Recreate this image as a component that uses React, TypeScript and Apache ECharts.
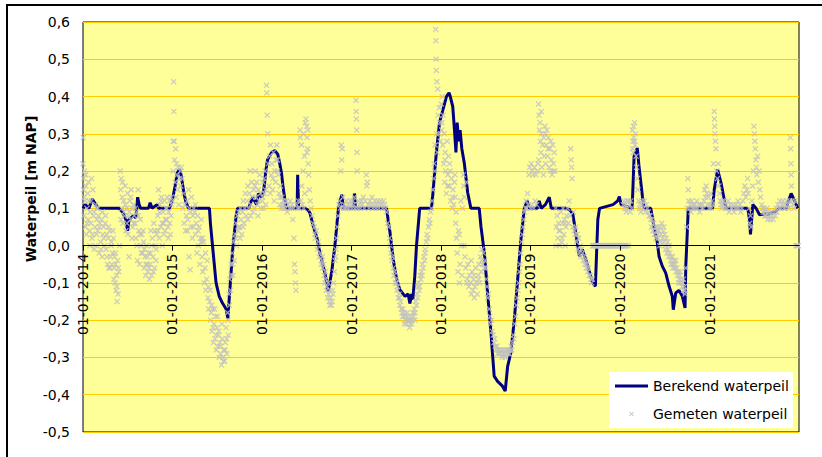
import React, { useEffect, useRef } from "react";
import * as echarts from "echarts";

// Berekend waterpeil [m NAP]
const BEREKEND: [string, number][] = [
  ["2014-01-01",0.10],["2014-01-10",0.11],["2014-01-25",0.10],["2014-02-08",0.125],["2014-02-22",0.11],["2014-03-06",0.10],
  ["2014-05-28",0.10],["2014-06-12",0.09],["2014-06-25",0.07],["2014-07-02",0.04],["2014-07-08",0.07],["2014-07-25",0.08],
  ["2014-08-05",0.075],["2014-08-12",0.13],["2014-08-18",0.11],["2014-08-24",0.10],["2014-09-25",0.10],["2014-10-02",0.115],
  ["2014-10-10",0.10],["2014-10-30",0.11],["2014-11-06",0.10],["2014-12-20",0.10],
  ["2015-01-03",0.13],["2015-01-12",0.16],["2015-01-21",0.195],["2015-01-30",0.205],["2015-02-05",0.19],["2015-02-10",0.17],
  ["2015-02-17",0.14],["2015-02-24",0.12],["2015-03-04",0.105],["2015-03-10",0.10],["2015-06-01",0.10],["2015-06-05",0.06],
  ["2015-06-15",-0.01],["2015-06-28",-0.10],["2015-07-11",-0.136],["2015-07-24",-0.154],["2015-08-08",-0.17],["2015-08-15",-0.195],
  ["2015-08-21",-0.14],["2015-09-04",-0.01],["2015-09-18",0.08],["2015-09-24",0.10],["2015-11-08",0.10],["2015-11-24",0.13],
  ["2015-12-02",0.12],["2015-12-10",0.11],["2015-12-18",0.14],
  ["2016-01-01",0.13],["2016-01-09",0.15],["2016-01-17",0.20],["2016-01-24",0.23],["2016-02-01",0.24],["2016-02-10",0.25],
  ["2016-02-23",0.255],["2016-03-06",0.245],["2016-03-14",0.22],["2016-03-21",0.195],["2016-03-27",0.16],["2016-04-04",0.123],
  ["2016-04-11",0.10],["2016-05-24",0.10],["2016-05-26",0.19],["2016-05-30",0.10],["2016-06-25",0.10],["2016-07-08",0.095],
  ["2016-07-15",0.088],["2016-07-29",0.052],["2016-08-13",0.02],["2016-08-25",-0.02],["2016-09-14",-0.073],["2016-09-28",-0.122],
  ["2016-10-12",-0.07],["2016-10-25",0.0],["2016-11-08",0.097],["2016-11-22",0.137],["2016-11-29",0.10],
  ["2017-01-10",0.10],["2017-01-13",0.14],["2017-01-17",0.10],["2017-05-24",0.10],["2017-05-30",0.07],["2017-06-07",0.035],
  ["2017-06-20",-0.037],["2017-07-04",-0.09],["2017-07-17",-0.118],["2017-08-07",-0.136],["2017-08-20",-0.13],["2017-08-27",-0.155],
  ["2017-09-03",-0.13],["2017-09-08",-0.145],["2017-09-16",-0.082],["2017-09-23",0.0],["2017-10-06",0.10],["2017-11-23",0.10],
  ["2017-11-29",0.14],["2017-12-13",0.25],["2017-12-26",0.33],
  ["2018-01-07",0.36],["2018-01-15",0.38],["2018-01-23",0.40],["2018-02-03",0.41],["2018-02-08",0.40],["2018-02-18",0.373],
  ["2018-02-25",0.31],["2018-03-03",0.25],["2018-03-08",0.33],["2018-03-14",0.28],["2018-03-20",0.31],["2018-03-27",0.26],
  ["2018-04-06",0.222],["2018-04-20",0.142],["2018-05-03",0.10],["2018-06-06",0.10],["2018-06-13",0.052],["2018-06-27",-0.02],
  ["2018-07-10",-0.127],["2018-07-24",-0.234],["2018-07-31",-0.297],["2018-08-06",-0.35],["2018-08-20",-0.364],["2018-09-09",-0.377],
  ["2018-09-20",-0.39],["2018-09-30",-0.324],["2018-10-13",-0.287],["2018-10-27",-0.20],["2018-11-10",-0.09],["2018-11-23",0.016],
  ["2018-12-07",0.10],["2018-12-19",0.12],["2018-12-27",0.10],
  ["2019-01-29",0.10],["2019-02-06",0.12],["2019-02-14",0.10],["2019-03-03",0.11],["2019-03-11",0.12],["2019-03-19",0.13],
  ["2019-03-27",0.10],["2019-05-27",0.10],["2019-06-09",0.097],["2019-06-23",0.085],["2019-07-07",0.025],["2019-07-20",-0.028],
  ["2019-08-01",-0.01],["2019-08-23",-0.055],["2019-09-12",-0.10],["2019-09-23",-0.109],["2019-09-26",-0.055],["2019-10-03",0.07],
  ["2019-10-10",0.10],["2019-12-04",0.11],["2019-12-23",0.12],["2019-12-30",0.132],
  ["2020-01-06",0.11],["2020-02-20",0.10],["2020-02-24",0.168],["2020-02-28",0.24],["2020-03-12",0.262],["2020-03-19",0.213],
  ["2020-04-02",0.132],["2020-04-09",0.10],["2020-05-06",0.10],["2020-05-19",0.052],["2020-06-02",0.007],["2020-06-09",-0.029],
  ["2020-06-22",-0.055],["2020-07-06",-0.073],["2020-07-20",-0.109],["2020-08-02",-0.136],["2020-08-06",-0.172],["2020-08-16",-0.127],
  ["2020-08-29",-0.12],["2020-09-12",-0.136],["2020-09-23",-0.167],["2020-09-26",-0.055],["2020-10-02",0.034],["2020-10-06",0.10],
  ["2021-01-13",0.10],["2021-01-20",0.15],["2021-02-03",0.204],["2021-02-17",0.168],["2021-03-02",0.123],["2021-03-09",0.10],
  ["2021-06-06",0.10],["2021-06-13",0.07],["2021-06-17",0.03],["2021-06-24",0.088],["2021-06-26",0.11],["2021-07-10",0.10],
  ["2021-07-24",0.083],["2021-08-13",0.085],["2021-09-03",0.085],["2021-09-23",0.09],["2021-10-13",0.10],["2021-11-10",0.10],
  ["2021-11-19",0.12],["2021-11-30",0.14],["2021-12-14",0.12],["2021-12-27",0.10],
];

// Gemeten waterpeil [m NAP], per year: [MM-DD, value]
const GEMETEN_2014: [string, number][] = [
  ["01-01",0.22],["01-02",0.29],["01-03",0.15],["01-04",0.18],["01-05",0.08],["01-07",0.2],["01-09",0.12],["01-11",0.05],["01-13",0.16],["01-15",0.03],["01-17",0.1],["01-20",0.14],["01-22",0.07],["01-25",0.12],["01-28",0.04],["01-30",0.09],
  ["01-06",0.13],["01-12",0.19],["01-18",0.06],["01-24",0.17],["01-29",0.0],
  ["02-02",0.06],["02-05",0.18],["02-07",0.02],["02-10",0.15],["02-13",0.08],["02-16",-0.01],["02-19",0.05],["02-22",0.11],["02-25",0.03],["02-27",0.07],
  ["02-03",0.12],["02-09",0.03],["02-15",0.09],["02-20",0.0],["02-26",0.1],
  ["03-02",0.04],["03-05",0.08],["03-08",-0.02],["03-11",0.06],["03-14",0.01],["03-17",0.07],["03-20",-0.03],["03-23",0.03],["03-26",0.05],["03-29",0.0],
  ["03-03",0.1],["03-09",0.05],["03-15",-0.01],["03-21",0.09],["03-27",0.02],
  ["04-02",0.06],["04-05",-0.01],["04-08",0.03],["04-11",-0.05],["04-14",0.02],["04-17",-0.06],["04-20",0.04],["04-23",-0.03],["04-26",0.0],["04-29",-0.05],
  ["04-03",0.08],["04-09",-0.03],["04-15",0.05],["04-21",-0.06],["04-27",0.01],
  ["05-02",-0.02],["05-05",0.02],["05-08",-0.06],["05-10",-0.03],["05-12",-0.1],["05-14",-0.05],["05-16",-0.12],["05-18",-0.08],["05-20",-0.15],["05-22",-0.04],["05-24",-0.13],["05-27",-0.07],["05-30",0.0],
  ["05-03",0.04],["05-07",-0.09],["05-13",-0.02],["05-19",-0.11],["05-25",-0.06],
  ["06-02",0.2],["06-04",0.15],["06-06",0.18],["06-08",0.1],["06-10",0.13],["06-13",0.06],["06-16",0.12],["06-19",0.08],["06-22",0.16],["06-25",0.04],["06-28",0.1],
  ["06-05",0.07],["06-11",0.17],["06-17",0.09],["06-23",0.11],["06-29",0.06],
  ["07-02",0.14],["07-05",0.08],["07-08",-0.03],["07-11",0.12],["07-14",0.07],["07-17",0.15],["07-20",0.1],["07-23",0.05],["07-26",0.11],["07-29",0.08],
  ["07-03",0.03],["07-09",0.09],["07-15",0.13],["07-21",0.02],["07-27",0.06],
  ["08-02",0.06],["08-05",0.02],["08-08",0.09],["08-11",-0.04],["08-14",0.15],["08-17",0.04],["08-20",-0.05],["08-23",0.07],["08-26",0.0],["08-29",0.03],
  ["08-03",0.1],["08-09",0.0],["08-15",0.08],["08-21",0.03],["08-27",-0.02],
  ["09-02",-0.02],["09-05",0.01],["09-08",-0.06],["09-11",-0.03],["09-14",-0.08],["09-17",0.0],["09-20",-0.05],["09-23",-0.07],["09-26",-0.02],["09-29",-0.09],
  ["09-03",0.04],["09-09",-0.01],["09-15",-0.05],["09-21",-0.03],["09-27",-0.06],
  ["10-02",-0.05],["10-05",0.04],["10-08",-0.08],["10-11",0.02],["10-14",-0.03],["10-17",0.06],["10-20",-0.06],["10-23",0.0],["10-26",-0.04],["10-29",0.03],
  ["10-03",-0.02],["10-09",0.0],["10-15",-0.07],["10-21",0.04],["10-27",-0.01],
  ["11-02",0.08],["11-05",0.15],["11-08",0.02],["11-11",0.11],["11-14",0.05],["11-17",0.13],["11-20",0.0],["11-23",0.09],["11-26",0.06],["11-29",0.12],
  ["11-03",0.04],["11-09",0.09],["11-15",0.12],["11-21",0.06],["11-27",0.03],
  ["12-02",0.04],["12-05",0.1],["12-08",0.07],["12-11",0.13],["12-14",0.05],["12-17",0.09],["12-20",0.12],["12-23",0.03],["12-26",0.08],["12-29",0.11],
  ["12-03",0.07],["12-09",0.1],["12-15",0.02],["12-21",0.06],["12-27",0.13],
];
const GEMETEN_2015: [string, number][] = [
  ["01-02",0.12],["01-04",0.2],["01-05",0.28],["01-06",0.44],["01-07",0.36],["01-08",0.28],["01-10",0.23],["01-12",0.17],["01-14",0.26],["01-16",0.13],["01-18",0.22],["01-20",0.19],["01-22",0.15],["01-24",0.21],["01-27",0.11],["01-30",0.18],
  ["02-02",0.2],["02-04",0.16],["02-06",0.21],["02-09",0.18],["02-12",0.1],["02-15",0.14],["02-18",0.06],["02-21",0.11],["02-24",0.04],["02-27",0.08],
  ["03-02",0.12],["03-05",0.07],["03-08",0.15],["03-10",-0.03],["03-12",0.1],["03-14",-0.065],["03-17",0.05],["03-20",0.13],["03-23",0.02],["03-26",0.08],["03-29",0.1],
  ["03-03",0.04],["03-15",0.09],["03-27",0.05],
  ["04-02",0.09],["04-05",0.03],["04-08",0.06],["04-11",-0.02],["04-14",0.08],["04-17",0.0],["04-20",0.05],["04-23",-0.05],["04-26",0.02],["04-29",0.07],
  ["04-04",0.11],["04-16",0.04],["04-28",0.01],
  ["05-02",-0.03],["05-05",-0.07],["05-08",0.01],["05-11",-0.1],["05-14",-0.06],["05-17",-0.12],["05-20",-0.09],["05-23",-0.04],["05-26",-0.14],["05-29",-0.17],
  ["05-04",0.02],["05-16",-0.02],["05-28",-0.11],
  ["06-02",-0.15],["06-05",-0.2],["06-08",-0.18],["06-11",-0.23],["06-14",-0.17],["06-17",-0.26],["06-20",-0.21],["06-23",-0.25],["06-26",-0.19],["06-29",-0.28],
  ["06-04",-0.12],["06-10",-0.16],["06-16",-0.22],["06-22",-0.17],["06-28",-0.24],
  ["07-02",-0.22],["07-05",-0.27],["07-08",-0.24],["07-11",-0.3],["07-14",-0.26],["07-17",-0.29],["07-20",-0.32],["07-23",-0.25],["07-26",-0.3],["07-29",-0.28],
  ["07-04",-0.19],["07-10",-0.23],["07-16",-0.27],["07-22",-0.21],["07-28",-0.31],
  ["08-02",-0.31],["08-05",-0.26],["08-08",-0.22],["08-11",-0.29],["08-14",-0.18],["08-17",-0.24],["08-20",-0.13],["08-23",-0.09],["08-26",-0.12],["08-29",-0.05],
  ["08-04",-0.28],["08-10",-0.25],["08-16",-0.2],["08-22",-0.16],["08-28",-0.08],
  ["09-02",-0.02],["09-05",-0.08],["09-08",0.01],["09-11",-0.04],["09-14",0.03],["09-17",0.06],["09-20",0.0],["09-23",0.08],["09-26",0.04],["09-29",0.09],
  ["09-04",-0.05],["09-16",0.02],["09-28",0.05],
  ["10-02",0.05],["10-05",0.1],["10-08",0.07],["10-11",0.03],["10-14",0.09],["10-17",0.12],["10-20",0.06],["10-23",0.1],["10-26",0.14],["10-29",0.08],
  ["10-04",0.02],["10-16",0.05],
  ["11-02",0.12],["11-05",0.16],["11-08",0.1],["11-11",0.14],["11-14",0.2],["11-17",0.11],["11-20",0.17],["11-23",0.13],["11-26",0.09],["11-29",0.15],
  ["11-04",0.07],["11-16",0.08],
  ["12-02",0.1],["12-05",0.2],["12-08",0.13],["12-11",0.17],["12-14",0.11],["12-17",0.15],["12-20",0.12],["12-23",0.19],["12-26",0.14],["12-29",0.1],
  ["12-04",0.16],["12-16",0.08],
];
const GEMETEN_2016: [string, number][] = [
  ["01-02",0.12],["01-05",0.17],["01-08",0.1],["01-11",0.14],["01-14",0.2],["01-17",0.11],["01-20",0.43],["01-21",0.41],["01-23",0.35],["01-25",0.3],["01-27",0.22],["01-30",0.16],
  ["01-04",0.13],["01-10",0.18],["01-16",0.15],
  ["02-02",0.24],["02-05",0.27],["02-08",0.19],["02-11",0.22],["02-14",0.15],["02-17",0.25],["02-20",0.12],["02-23",0.2],["02-26",0.17],
  ["02-04",0.14],["02-16",0.18],["02-28",0.23],
  ["03-02",0.27],["03-05",0.23],["03-08",0.19],["03-11",0.14],["03-14",0.11],["03-17",0.16],["03-20",0.1],["03-23",0.13],["03-26",0.11],["03-29",0.12],
  ["03-04",0.2],["03-16",0.13],["03-28",0.1],
  ["04-02",0.11],["04-06",0.1],["04-10",0.12],["04-14",0.09],["04-18",0.11],["04-22",0.1],["04-26",0.12],["04-30",0.1],
  ["05-03",0.11],["05-06",0.07],["05-09",0.1],["05-11",0.02],["05-13",-0.05],["05-15",-0.07],["05-17",-0.1],["05-19",-0.12],["05-22",0.11],["05-26",0.1],["05-29",0.12],
  ["06-02",0.1],["06-05",0.31],["06-08",0.12],["06-11",0.27],["06-14",0.11],["06-17",0.2],["06-20",0.1],["06-23",0.24],["06-26",0.33],["06-29",0.34],
  ["06-06",0.29],["06-12",0.16],["06-18",0.3],["06-24",0.14],
  ["07-02",0.32],["07-04",0.29],["07-06",0.26],["07-08",0.22],["07-10",0.19],["07-13",0.15],["07-16",0.12],["07-20",0.1],["07-24",0.08],["07-28",0.06],
  ["07-03",0.25],["07-07",0.31],
  ["08-02",0.05],["08-06",0.02],["08-10",0.04],["08-14",-0.01],["08-18",0.01],["08-22",-0.03],["08-26",-0.02],["08-30",-0.05],
  ["08-04",0.03],["08-20",0.0],
  ["09-02",-0.04],["09-05",-0.06],["09-08",-0.05],["09-11",-0.08],["09-14",-0.1],["09-17",-0.09],["09-20",-0.12],["09-23",-0.11],["09-26",-0.14],["09-29",-0.13],
  ["09-04",-0.03],["09-16",-0.07],["09-28",-0.1],
  ["10-02",-0.15],["10-05",-0.16],["10-08",-0.14],["10-11",-0.16],["10-14",-0.15],["10-17",-0.13],["10-20",-0.1],["10-23",-0.07],["10-26",-0.04],["10-29",-0.01],
  ["10-04",-0.12],["10-16",-0.12],["10-28",-0.03],
  ["11-01",0.02],["11-04",0.05],["11-07",0.08],["11-10",0.11],["11-13",0.12],["11-16",0.1],["11-18",0.2],["11-20",0.27],["11-22",0.23],["11-24",0.26],["11-27",0.13],["11-30",0.1],
  ["12-02",0.11],["12-06",0.1],["12-10",0.12],["12-14",0.1],["12-18",0.11],["12-22",0.1],["12-26",0.12],["12-30",0.11],
];
const GEMETEN_2017: [string, number][] = [
  ["01-03",0.1],["01-06",0.12],["01-09",0.11],["01-12",0.13],["01-15",0.1],["01-19",0.39],["01-20",0.36],["01-21",0.34],["01-22",0.31],["01-23",0.25],["01-24",0.2],["01-26",0.1],["01-29",0.12],
  ["02-02",0.11],["02-06",0.1],["02-10",0.12],["02-14",0.11],["02-18",0.13],["02-22",0.1],["02-26",0.12],
  ["03-02",0.19],["03-04",0.16],["03-06",0.17],["03-09",0.11],["03-13",0.1],["03-17",0.12],["03-21",0.11],["03-25",0.13],["03-29",0.1],
  ["04-02",0.11],["04-06",0.12],["04-10",0.1],["04-14",0.11],["04-18",0.12],["04-22",0.1],["04-26",0.11],["04-30",0.12],
  ["05-04",0.11],["05-08",0.1],["05-12",0.12],["05-16",0.11],["05-20",0.1],["05-24",0.09],["05-28",0.06],
  ["06-02",0.05],["06-05",0.02],["06-08",0.0],["06-11",-0.02],["06-14",-0.04],["06-17",-0.03],["06-20",-0.06],["06-23",-0.08],["06-26",-0.07],["06-29",-0.1],
  ["07-02",-0.09],["07-05",-0.12],["07-08",-0.11],["07-11",-0.14],["07-14",-0.13],["07-17",-0.16],["07-20",-0.15],["07-23",-0.17],["07-26",-0.18],["07-29",-0.17],
  ["07-04",-0.1],["07-16",-0.14],["07-28",-0.19],
  ["08-02",-0.19],["08-05",-0.18],["08-08",-0.2],["08-11",-0.19],["08-14",-0.21],["08-17",-0.2],["08-20",-0.19],["08-23",-0.2],["08-26",-0.22],["08-29",-0.2],
  ["08-04",-0.21],["08-16",-0.18],["08-28",-0.21],
  ["09-02",-0.19],["09-05",-0.2],["09-08",-0.18],["09-11",-0.19],["09-14",-0.17],["09-17",-0.18],["09-20",-0.15],["09-23",-0.16],["09-26",-0.13],["09-29",-0.11],
  ["09-04",-0.21],["09-16",-0.2],["09-28",-0.14],
  ["10-02",-0.1],["10-05",-0.11],["10-08",-0.08],["10-11",-0.09],["10-14",-0.07],["10-17",-0.05],["10-20",-0.06],["10-23",-0.03],["10-26",-0.04],["10-29",-0.01],
  ["10-04",-0.12],["10-16",-0.08],["10-28",-0.02],
  ["11-02",0.01],["11-05",0.03],["11-08",0.02],["11-11",0.05],["11-14",0.07],["11-17",0.06],["11-20",0.09],["11-23",0.1],["11-26",0.12],["11-29",0.15],
  ["12-02",0.18],["12-04",0.22],["12-06",0.2],["12-08",0.27],["12-10",0.58],["12-11",0.55],["12-12",0.5],["12-13",0.47],["12-14",0.3],["12-15",0.44],["12-17",0.25],["12-19",0.42],["12-21",0.35],["12-23",0.3],["12-25",0.37],["12-27",0.33],["12-29",0.28],
];
const GEMETEN_2018: [string, number][] = [
  ["01-02",0.38],["01-04",0.31],["01-06",0.4],["01-08",0.27],["01-10",0.35],["01-12",0.22],["01-14",0.3],["01-16",0.17],["01-18",0.25],["01-20",0.2],["01-23",0.14],["01-26",0.28],["01-29",0.19],
  ["01-05",0.33],["01-17",0.23],["01-28",0.16],
  ["02-01",0.24],["02-04",0.16],["02-07",0.2],["02-10",0.12],["02-13",0.18],["02-16",0.1],["02-19",0.15],["02-22",0.11],["02-25",0.17],["02-28",0.13],
  ["02-05",0.22],["02-17",0.13],["02-27",0.19],
  ["03-02",0.06],["03-05",0.02],["03-08",-0.02],["03-11",-0.07],["03-14",0.04],["03-17",-0.1],["03-20",-0.05],["03-23",0.12],["03-26",0.0],["03-29",0.1],
  ["03-04",0.09],["03-16",0.03],["03-28",-0.08],
  ["04-02",0.19],["04-04",0.16],["04-06",0.13],["04-09",-0.03],["04-12",-0.06],["04-15",0.17],["04-18",-0.09],["04-21",-0.05],["04-24",-0.11],["04-27",-0.08],
  ["04-05",0.0],["04-17",-0.1],
  ["05-02",-0.1],["05-05",-0.13],["05-08",-0.07],["05-11",-0.12],["05-14",-0.09],["05-17",-0.14],["05-20",-0.11],["05-23",-0.06],["05-26",-0.1],["05-29",-0.13],
  ["05-04",-0.04],["05-16",-0.08],
  ["06-02",-0.08],["06-05",-0.05],["06-08",-0.1],["06-11",-0.03],["06-14",-0.07],["06-17",-0.01],["06-20",-0.05],["06-23",-0.02],["06-26",-0.06],["06-29",-0.04],
  ["06-04",-0.09],["06-16",-0.04],
  ["07-02",-0.06],["07-05",-0.09],["07-08",-0.11],["07-11",-0.14],["07-14",-0.13],["07-17",-0.17],["07-20",-0.19],["07-23",-0.21],["07-26",-0.2],["07-29",-0.23],
  ["08-02",-0.24],["08-05",-0.26],["08-08",-0.25],["08-11",-0.27],["08-14",-0.28],["08-17",-0.27],["08-20",-0.29],["08-23",-0.28],["08-26",-0.29],["08-29",-0.28],
  ["09-02",-0.29],["09-05",-0.28],["09-08",-0.3],["09-11",-0.29],["09-14",-0.28],["09-17",-0.29],["09-20",-0.3],["09-23",-0.28],["09-26",-0.29],["09-29",-0.28],
  ["10-02",-0.29],["10-05",-0.28],["10-08",-0.29],["10-11",-0.28],["10-14",-0.27],["10-17",-0.28],["10-20",-0.26],["10-23",-0.24],["10-26",-0.25],["10-29",-0.21],
  ["11-02",-0.19],["11-05",-0.16],["11-08",-0.14],["11-11",-0.12],["11-14",-0.1],["11-17",-0.07],["11-20",-0.05],["11-23",-0.02],["11-26",0.01],["11-29",0.03],
  ["12-02",0.05],["12-05",0.07],["12-08",0.09],["12-11",0.1],["12-14",0.12],["12-17",0.1],["12-20",0.14],["12-23",0.11],["12-26",0.19],["12-29",0.21],
];
const GEMETEN_2019: [string, number][] = [
  ["01-02",0.1],["01-04",0.22],["01-06",0.11],["01-08",0.2],["01-11",0.19],["01-14",0.1],["01-17",0.21],["01-20",0.12],["01-23",0.19],["01-26",0.11],["01-29",0.2],
  ["02-01",0.22],["02-03",0.38],["02-05",0.35],["02-07",0.31],["02-09",0.33],["02-11",0.28],["02-13",0.25],["02-15",0.3],["02-17",0.21],["02-20",0.27],["02-23",0.19],["02-26",0.24],
  ["02-04",0.23],["02-14",0.36],["02-24",0.29],
  ["03-01",0.32],["03-03",0.3],["03-06",0.27],["03-09",0.31],["03-12",0.24],["03-15",0.29],["03-18",0.21],["03-21",0.26],["03-24",0.2],["03-27",0.23],["03-30",0.19],
  ["03-04",0.22],["03-14",0.26],["03-25",0.28],
  ["04-02",0.27],["04-05",0.22],["04-08",0.25],["04-11",0.2],["04-14",0.1],["04-17",0.05],["04-20",0.08],["04-23",0.02],["04-26",0.06],["04-29",0.0],
  ["04-04",0.2],["04-16",0.0],["04-28",0.04],
  ["05-02",0.04],["05-05",0.09],["05-08",0.01],["05-11",0.06],["05-14",0.1],["05-17",0.03],["05-20",0.07],["05-23",0.0],["05-26",0.05],["05-29",0.08],
  ["05-10",0.02],["05-22",0.06],
  ["06-02",0.1],["06-05",0.06],["06-08",0.12],["06-11",0.08],["06-14",0.26],["06-16",0.23],["06-18",0.21],["06-20",0.18],["06-23",0.05],["06-26",0.09],["06-29",0.04],
  ["07-02",0.03],["07-05",0.05],["07-08",0.01],["07-11",0.03],["07-14",-0.01],["07-17",0.02],["07-20",-0.02],["07-23",0.0],["07-26",-0.03],["07-29",-0.01],
  ["08-02",-0.02],["08-05",-0.04],["08-08",-0.03],["08-11",-0.05],["08-14",-0.04],["08-17",-0.06],["08-20",-0.05],["08-23",-0.07],["08-26",-0.06],["08-29",-0.08],
  ["09-02",-0.08],["09-05",-0.09],["09-08",-0.1],["09-10",-0.09],
  ["09-12",0.0],["09-15",0.0],["09-18",0.0],["09-21",0.0],["09-24",0.0],["09-27",0.0],["09-30",0.0],
  ["10-03",0.0],["10-06",0.0],["10-09",0.0],["10-12",0.0],["10-15",0.0],["10-18",0.0],["10-21",0.0],["10-24",0.0],["10-27",0.0],["10-30",0.0],
  ["11-02",0.0],["11-05",0.0],["11-08",0.0],["11-11",0.0],["11-14",0.0],["11-17",0.0],["11-20",0.0],["11-23",0.0],["11-26",0.0],["11-29",0.0],
  ["12-02",0.0],["12-05",0.0],["12-08",0.0],["12-11",0.0],["12-14",0.0],["12-17",0.0],["12-20",0.0],["12-23",0.0],["12-26",0.0],["12-29",0.0],
];
const GEMETEN_2020: [string, number][] = [
  ["01-01",0.0],["01-04",0.0],["01-07",0.0],["01-10",0.0],["01-13",0.0],["01-16",0.0],["01-19",0.0],["01-22",0.0],["01-25",0.0],["01-28",0.0],
  ["01-15",0.11],["01-18",0.12],["01-21",0.1],["01-24",0.11],["01-27",0.09],["01-30",0.12],
  ["02-02",0.1],["02-05",0.0],["02-06",0.12],["02-09",0.11],["02-12",0.09],["02-15",0.12],["02-18",0.1],["02-21",0.31],["02-23",0.28],["02-25",0.25],["02-27",0.29],
  ["02-22",0.26],["02-26",0.32],
  ["03-01",0.33],["03-03",0.27],["03-05",0.3],["03-07",0.24],["03-09",0.21],["03-12",0.18],["03-15",0.15],["03-18",0.12],["03-21",0.1],["03-24",0.11],["03-27",0.09],["03-30",0.12],
  ["03-02",0.28],
  ["04-02",0.11],["04-06",0.1],["04-10",0.12],["04-14",0.09],["04-18",0.11],["04-22",0.1],["04-26",0.09],["04-30",0.08],
  ["05-03",0.08],["05-06",0.07],["05-09",0.05],["05-12",0.07],["05-15",0.04],["05-18",0.06],["05-21",0.03],["05-24",0.05],["05-27",0.02],["05-30",0.04],
  ["06-02",0.05],["06-05",0.02],["06-08",0.04],["06-11",0.0],["06-14",0.05],["06-17",0.03],["06-20",0.06],["06-23",0.02],["06-26",0.04],["06-29",0.01],
  ["06-04",0.03],["06-16",0.01],["06-28",0.05],
  ["07-02",0.03],["07-05",-0.01],["07-08",0.02],["07-11",-0.02],["07-14",0.01],["07-17",-0.03],["07-20",0.0],["07-23",-0.02],["07-26",-0.04],["07-29",-0.03],
  ["07-04",0.0],["07-16",-0.01],["07-28",-0.05],
  ["08-02",-0.03],["08-05",-0.05],["08-08",-0.04],["08-11",-0.06],["08-14",-0.05],["08-17",-0.07],["08-20",-0.06],["08-23",-0.08],["08-26",-0.07],["08-29",-0.09],
  ["08-04",-0.06],["08-16",-0.04],["08-28",-0.1],
  ["09-02",-0.08],["09-05",-0.1],["09-08",-0.09],["09-11",-0.11],["09-14",-0.1],["09-17",-0.12],["09-20",-0.11],["09-23",-0.13],["09-26",-0.06],["09-29",0.05],
  ["09-04",-0.07],["09-16",-0.09],["09-22",-0.12],
  ["10-02",0.1],["10-04",0.18],["10-06",0.15],["10-08",0.12],["10-11",0.1],["10-14",0.11],["10-17",0.09],["10-20",0.12],["10-23",0.1],["10-26",0.11],["10-29",0.1],
  ["11-02",0.11],["11-06",0.1],["11-10",0.12],["11-14",0.1],["11-18",0.11],["11-22",0.09],["11-26",0.11],["11-30",0.1],
  ["12-03",0.11],["12-06",0.1],["12-09",0.12],["12-12",0.15],["12-15",0.13],["12-18",0.16],["12-21",0.14],["12-24",0.11],["12-27",0.13],["12-30",0.1],
];
const GEMETEN_2021: [string, number][] = [
  ["01-02",0.11],["01-05",0.14],["01-08",0.1],["01-11",0.12],["01-14",0.11],["01-17",0.22],["01-20",0.36],["01-21",0.34],["01-22",0.32],["01-23",0.3],["01-25",0.28],["01-27",0.26],["01-30",0.2],
  ["02-02",0.18],["02-05",0.22],["02-08",0.16],["02-11",0.14],["02-14",0.12],["02-17",0.11],["02-20",0.1],["02-23",0.12],["02-26",0.11],
  ["03-02",0.12],["03-06",0.1],["03-10",0.11],["03-14",0.1],["03-18",0.12],["03-22",0.09],["03-26",0.11],["03-30",0.1],
  ["04-03",0.1],["04-07",0.11],["04-11",0.09],["04-15",0.1],["04-19",0.11],["04-23",0.1],["04-27",0.12],
  ["05-01",0.1],["05-05",0.11],["05-09",0.09],["05-13",0.1],["05-17",0.12],["05-21",0.14],["05-25",0.16],["05-29",0.13],
  ["06-02",0.15],["06-05",0.18],["06-08",0.14],["06-11",0.1],["06-14",0.06],["06-17",0.08],["06-20",0.05],["06-23",0.12],["06-26",0.16],["06-29",0.2],
  ["07-01",0.32],["07-03",0.3],["07-05",0.28],["07-07",0.26],["07-09",0.23],["07-11",0.21],["07-13",0.19],["07-16",0.24],["07-19",0.17],["07-22",0.2],["07-25",0.15],["07-28",0.13],
  ["08-02",0.11],["08-05",0.1],["08-08",0.09],["08-11",0.1],["08-14",0.08],["08-17",0.09],["08-20",0.08],["08-23",0.1],["08-26",0.07],["08-29",0.09],
  ["09-02",0.08],["09-06",0.07],["09-10",0.09],["09-14",0.08],["09-18",0.07],["09-22",0.09],["09-26",0.08],["09-30",0.1],
  ["10-03",0.09],["10-07",0.11],["10-11",0.1],["10-15",0.12],["10-19",0.1],["10-23",0.11],["10-27",0.12],["10-31",0.1],
  ["11-03",0.11],["11-07",0.1],["11-11",0.12],["11-15",0.11],["11-19",0.1],["11-23",0.12],["11-27",0.29],["11-28",0.26],["11-29",0.22],["11-30",0.19],
  ["12-01",0.16],["12-04",0.12],["12-08",0.11],["12-12",0.1],["12-16",0.12],["12-20",0.0],["12-23",0.0],["12-26",0.0],["12-29",0.0],
];

const GEMETEN_PER_JAAR: [number, [string, number][]][] = [
  [2014, GEMETEN_2014], [2015, GEMETEN_2015], [2016, GEMETEN_2016], [2017, GEMETEN_2017],
  [2018, GEMETEN_2018], [2019, GEMETEN_2019], [2020, GEMETEN_2020], [2021, GEMETEN_2021],
];

const TICK_YEARS = [2014, 2015, 2016, 2017, 2018, 2019, 2020, 2021];
const X_START_YEAR = 2014;
const X_END_YEAR = 2022;
const Y_MIN = -0.5;
const Y_MAX = 0.6;
const Y_STEP = 0.1;
const NAME_BEREKEND = "Berekend waterpeil";
const NAME_GEMETEN = "Gemeten waterpeil";
const Y_TITLE = "Waterpeil [m NAP]";

const FONT = "DejaVu Sans";
const CROSS = "path://M0,1.5L1.5,0L5,3.5L8.5,0L10,1.5L6.5,5L10,8.5L8.5,10L5,6.5L1.5,10L0,8.5L3.5,5Z";
const LEGEND_LINE = "path://M0,0M33,6M0,1.5L33,1.5L33,4.5L0,4.5Z";
const LEGEND_CROSS =
  "path://M0,0M33,6M14,1.25L14.75,0.5L16.5,2.25L18.25,0.5L19,1.25L17.25,3L19,4.75L18.25,5.5L16.5,3.75L14.75,5.5L14,4.75L15.75,3Z";

const GRID_TOP = 22;
const GRID_BOTTOM = 25;
const CHART_H = 457;

const toTime = (s: string) => {
  const [y, m, d] = s.split("-").map(Number);
  return Date.UTC(y, m - 1, d);
};

export default function App() {
  const ref = useRef<HTMLDivElement>(null);

  useEffect(() => {
    if (!ref.current) return;
    const chart = echarts.init(ref.current, null, { renderer: "svg" });

    const lineData = BEREKEND.map(([d, v]) => [toTime(d), v]);
    const scatterData: number[][] = [];
    GEMETEN_PER_JAAR.forEach(([year, rows]) => {
      rows.forEach(([md, v]) => scatterData.push([toTime(`${year}-${md}`), v]));
    });
    const yearTicks = TICK_YEARS.map((y) => Date.UTC(y, 0, 1));
    // distance from the bottom of the plot to the zero level, so the time axis sits on 0
    const plotH = CHART_H - GRID_TOP - GRID_BOTTOM;
    const zeroOffset = -plotH * ((0 - Y_MIN) / (Y_MAX - Y_MIN));

    chart.setOption({
      animation: false,
      textStyle: { fontFamily: FONT },
      grid: {
        left: 83,
        right: 23,
        top: GRID_TOP,
        bottom: GRID_BOTTOM,
        containLabel: false,
        outerBoundsMode: "none",
        show: true,
        backgroundColor: "#FFFF99",
        borderColor: "#000",
        borderWidth: 1,
      },
      xAxis: {
        type: "value",
        min: Date.UTC(X_START_YEAR, 0, 1),
        max: Date.UTC(X_END_YEAR, 0, 1),
        position: "bottom",
        offset: zeroOffset,
        axisLine: { show: true, onZero: false, lineStyle: { color: "#000", width: 1 } },
        axisTick: {
          show: true,
          customValues: yearTicks,
          length: 5,
          lineStyle: { color: "#000", width: 1 },
        },
        axisLabel: {
          customValues: yearTicks,
          rotate: 90,
          margin: 8,
          color: "#000",
          fontFamily: FONT,
          fontSize: 14,
          hideOverlap: false,
          showMinLabel: true,
          formatter: (v: number) => "01-01-" + new Date(v).getUTCFullYear(),
        },
        splitLine: { show: false },
        z: 5,
      },
      yAxis: {
        type: "value",
        min: Y_MIN,
        max: Y_MAX,
        interval: Y_STEP,
        axisLine: { show: false },
        axisTick: { show: false },
        axisLabel: {
          margin: 13,
          color: "#000",
          fontFamily: FONT,
          fontSize: 14,
          formatter: (v: number) => (Math.abs(v) < 1e-9 ? "0,0" : v.toFixed(1).replace(".", ",")),
        },
        splitLine: { show: true, lineStyle: { color: "#FFCC00", width: 1 } },
      },
      legend: {
        orient: "vertical",
        left: 609,
        top: 372,
        padding: [6, 4, 6, 6],
        backgroundColor: "#FFFFFF",
        itemWidth: 33,
        itemHeight: 6,
        itemGap: 12,
        textStyle: { fontFamily: FONT, fontSize: 14, color: "#000", lineHeight: 16 },
        data: [
          { name: NAME_BEREKEND, icon: LEGEND_LINE, itemStyle: { color: "#000080", borderWidth: 0 } },
          { name: NAME_GEMETEN, icon: LEGEND_CROSS, itemStyle: { color: "#C0C0C0", borderWidth: 0 } },
        ],
      },
      graphic: [
        {
          type: "rect",
          silent: true,
          shape: { x: 7, y: 5, width: 840, height: 480 },
          style: { fill: "none", stroke: "#000", lineWidth: 2 },
          z: 0,
        },
        {
          type: "text",
          silent: true,
          x: 31,
          y: 189,
          rotation: Math.PI / 2,
          style: {
            text: Y_TITLE,
            font: `bold 14px "${FONT}"`,
            fill: "#000",
            align: "center",
            verticalAlign: "middle",
          },
        },
      ],
      series: [
        {
          name: NAME_BEREKEND,
          type: "line",
          data: lineData,
          symbol: "none",
          lineStyle: { color: "#000080", width: 3 },
          itemStyle: { color: "#000080" },
          z: 2,
        },
        {
          name: NAME_GEMETEN,
          type: "scatter",
          data: scatterData,
          symbol: CROSS,
          symbolSize: 6,
          itemStyle: { color: "#C0C0C0" },
          z: 3,
        },
      ],
    });

    return () => chart.dispose();
  }, []);

  return (
    <div
      ref={ref}
      style={{ position: "fixed", left: 0, top: 0, width: 822, height: 457, background: "#fff" }}
    />
  );
}
